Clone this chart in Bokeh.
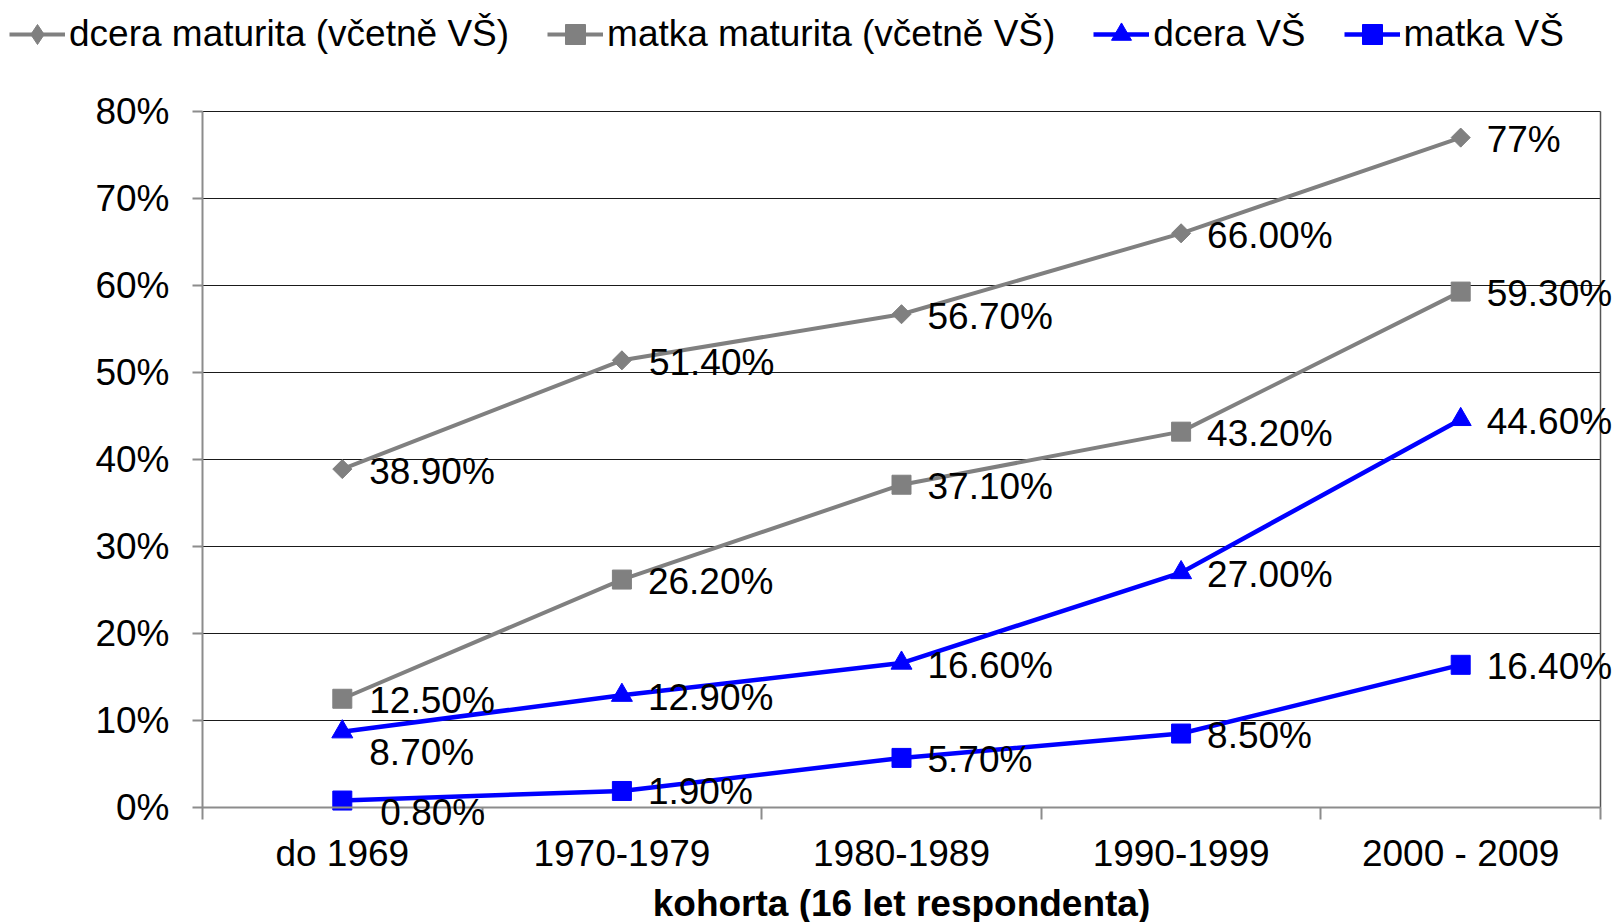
import math
from bokeh.plotting import figure
from bokeh.models import (ColumnDataSource, FixedTicker, PrintfTickFormatter, Legend, LegendItem,
                          Range1d, CustomJSTickFormatter, LabelSet)
from bokeh.embed import file_html
from bokeh.resources import INLINE
from bokeh.core.properties import value

# ---------------- data ----------------
categories = ["do 1969", "1970-1979", "1980-1989", "1990-1999", "2000 - 2009"]
series_names = ["dcera maturita (včetně VŠ)", "matka maturita (včetně VŠ)", "dcera VŠ", "matka VŠ"]
dcera_maturita = [38.9, 51.4, 56.7, 66.0, 77.0]
matka_maturita = [12.5, 26.2, 37.1, 43.2, 59.3]
dcera_vs = [8.7, 12.9, 16.6, 27.0, 44.6]
matka_vs = [0.8, 1.9, 5.7, 8.5, 16.4]
labels_dcera_maturita = ["38.90%", "51.40%", "56.70%", "66.00%", "77%"]
labels_matka_maturita = ["12.50%", "26.20%", "37.10%", "43.20%", "59.30%"]
labels_dcera_vs = ["8.70%", "12.90%", "16.60%", "27.00%", "44.60%"]
labels_matka_vs = ["0.80%", "1.90%", "5.70%", "8.50%", "16.40%"]
y_ticks = [0, 10, 20, 30, 40, 50, 60, 70, 80]
x_axis_title = "kohorta (16 let respondenta)"

# ---------------- layout / style ----------------
W, H = 1615, 922
PLOT_L, PLOT_R, PLOT_T, PLOT_B = 202, 1600, 111, 807   # plot-area edges in page pixels
FONT = "Liberation Sans"
FS = "37px"
GRAY = "#808080"
BLUE = "#0000FF"
AXIS_GRAY = "#8c8c8c"

n = len(categories)
y_max = y_ticks[-1]
ux = n / (PLOT_R - PLOT_L)          # data units per pixel, x
uy = y_max / (PLOT_B - PLOT_T)      # data units per pixel, y
x_range = Range1d(-PLOT_L * ux, n + (W - PLOT_R) * ux)
y_range = Range1d(-(H - PLOT_B) * uy, y_max + PLOT_T * uy)

x_pos = [i + 0.5 for i in range(n)]

p = figure(width=W, height=H, x_range=x_range, y_range=y_range,
           output_backend="svg", toolbar_location=None)
p.min_border = 0
p.min_border_left = 0
p.min_border_right = 0
p.min_border_top = 0
p.min_border_bottom = 0
p.outline_line_color = None
p.background_fill_color = "white"
p.border_fill_color = "white"
p.xgrid.visible = False
p.ygrid.visible = False

# horizontal gridlines limited to the plot area
p.segment(x0=[0] * len(y_ticks), x1=[n] * len(y_ticks), y0=y_ticks, y1=y_ticks,
          line_color="#1a1a1a", line_width=1, level="underlay")
# right border of plot area
p.segment(x0=[n], x1=[n], y0=[0], y1=[y_max], line_color="#555555", line_width=1.5, level="underlay")

# y axis (drawn at x = 0)
ya = p.yaxis[0]
ya.fixed_location = 0
ya.bounds = (0, y_max)
ya.ticker = FixedTicker(ticks=y_ticks)
ya.formatter = PrintfTickFormatter(format="%d%%")
ya.axis_line_color = AXIS_GRAY
ya.axis_line_width = 2
ya.major_tick_line_color = AXIS_GRAY
ya.major_tick_line_width = 2
ya.major_tick_out = 10
ya.major_tick_in = 0
ya.minor_tick_line_color = None
ya.major_label_text_font = FONT
ya.major_label_text_font_size = FS
ya.major_label_text_color = "black"
ya.major_label_standoff = 23

# x axis (drawn at y = 0)
xa = p.xaxis[0]
xa.fixed_location = 0
xa.bounds = (0, n)
xa.ticker = FixedTicker(ticks=x_pos, minor_ticks=list(range(n + 1)))
xa.formatter = CustomJSTickFormatter(args=dict(cats=categories),
                                     code="const i = Math.floor(tick); return (i >= 0 && i < cats.length) ? cats[i] : '';")
xa.axis_line_color = AXIS_GRAY
xa.axis_line_width = 2
xa.major_tick_line_color = None
xa.major_tick_out = 0
xa.major_tick_in = 0
xa.minor_tick_line_color = AXIS_GRAY
xa.minor_tick_line_width = 2
xa.minor_tick_out = 12
xa.minor_tick_in = 0
xa.major_label_text_font = FONT
xa.major_label_text_font_size = FS
xa.major_label_text_color = "black"
xa.major_label_standoff = 13
xa.axis_label = x_axis_title
xa.axis_label_text_font = FONT
xa.axis_label_text_font_size = FS
xa.axis_label_text_font_style = "bold"
xa.axis_label_text_color = "black"
xa.axis_label_standoff = 6

# (values, labels, colour, line width, marker, marker size, marker angle, legend marker)
series = [
    (dcera_maturita, labels_dcera_maturita, GRAY, 4, "square", 13.5, math.pi / 4, "diamond"),
    (matka_maturita, labels_matka_maturita, GRAY, 4, "square", 19, 0, "square"),
    (dcera_vs, labels_dcera_vs, BLUE, 4.5, "triangle", 21, 0, "triangle"),
    (matka_vs, labels_matka_vs, BLUE, 4.5, "square", 19, 0, "square"),
]

# per-label offsets (px) mirroring the reference's label placement
label_dx = [[27, 27, 26, 26, 26], [27, 26, 26, 26, 26], [27, 26, 26, 26, 26], [38, 26, 26, 26, 26]]
label_dy = [[-2, -2, -2, -2, -2], [-2, -2, -2, -2, -2], [-21, -2, -2, -2, -2], [-12, -1, -2, -2, -2]]

items = []
sources = []
for k, (vals, labs, col, lw, mk, ms, ang, lmk) in enumerate(series):
    src = ColumnDataSource(dict(x=x_pos, y=vals, lab=labs, dx=label_dx[k], dy=label_dy[k]))
    l = p.line("x", "y", source=src, line_color=col, line_width=lw)
    if ang != 0:
        # legend glyphs are never rotated; a plain diamond (fully hidden under the rotated
        # square in the plot) stands in for the marker in the legend
        proxy = p.scatter("x", "y", source=src, marker=lmk, size=ms * 1.3,
                          fill_color=col, line_color=col)
    s = p.scatter("x", "y", source=src, marker=mk, size=ms, angle=ang,
                  fill_color=col, line_color=col)
    items.append(LegendItem(label=series_names[k], renderers=[l, proxy if ang != 0 else s]))
    sources.append(src)

for src in sources:
    ls = LabelSet(x="x", y="y", text="lab", source=src, x_offset="dx", y_offset="dy",
                  text_font=value(FONT), text_font_size=value(FS), text_color="black",
                  text_align="left", text_baseline="middle")
    p.add_layout(ls)

legend = Legend(items=items, orientation="horizontal", location="top_left",
                glyph_width=56, glyph_height=50, label_standoff=4, spacing=38,
                padding=0, margin=9, border_line_color=None, background_fill_alpha=0,
                label_text_font=FONT, label_text_font_size=FS, label_text_color="black")
p.add_layout(legend, "center")

open("out.html", "w").write(file_html(p, INLINE))
